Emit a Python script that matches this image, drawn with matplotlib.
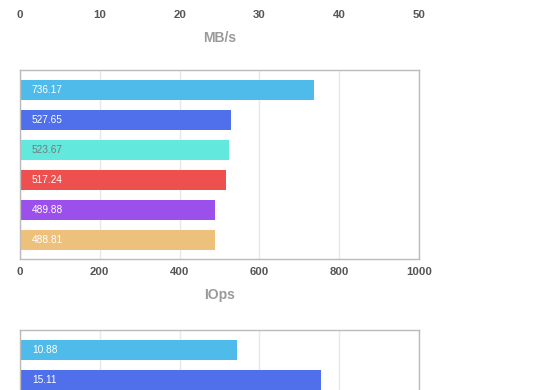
import matplotlib
matplotlib.use('Agg')
import matplotlib.pyplot as plt

plt.rcParams['font.family'] = ['Liberation Sans', 'DejaVu Sans']

colors = ['#4fbbeb', '#4f6feb', '#62e8dc', '#ee4f4f', '#9b4feb', '#edc07c']
label_colors = ['white', 'white', '#777777', 'white', 'white', 'white']

# top chart (only its axis is visible)
mbs_ticks = [0, 10, 20, 30, 40, 50]

# middle chart
iops_values = [736.17, 527.65, 523.67, 517.24, 489.88, 488.81]
iops_ticks = [0, 200, 400, 600, 800, 1000]

# bottom chart (only the first two bars are visible)
lat_values = [10.88, 15.11]
lat_max = 20

W, H = 560, 390
fig = plt.figure(figsize=(W / 100, H / 100), dpi=100)


def px_axes(left, top, width, height):
    return fig.add_axes([left / W, (H - top - height) / H, width / W, height / H])


def style(ax, xmax, ticks=None, xlabel=None):
    ax.set_xlim(0, xmax)
    ax.set_ylim(5.633, -0.667)
    ax.set_yticks([])
    if ticks is not None:
        ax.set_xticks(ticks)
    ax.grid(axis='x', color='#e8e8e8', linewidth=1)
    ax.set_axisbelow(True)
    for s in ax.spines.values():
        s.set_color('#bbbbbb')
        s.set_linewidth(1)
    ax.tick_params(axis='x', length=0, pad=6, labelsize=8.2, labelcolor='#555555')
    for t in ax.get_xticklabels():
        t.set_fontweight('bold')
    if xlabel:
        ax.set_xlabel(xlabel, fontsize=10, color='#9a9a9a', labelpad=8, fontweight='bold')


def bars(ax, values, xmax):
    pos = list(range(len(values)))
    ax.barh(pos, values, height=0.667, color=colors[:len(values)])
    for i, v in enumerate(values):
        ax.text(xmax * 0.03, i, f'{v:.2f}', va='center', ha='left',
                fontsize=7.3, color=label_colors[i])


ax_top = px_axes(20, 2 - 189, 399, 189)
style(ax_top, 50, mbs_ticks, 'MB/s')
ax_top.grid(False)
for s in ax_top.spines.values():
    s.set_visible(False)

ax_mid = px_axes(20, 70, 399, 189)
style(ax_mid, 1000, iops_ticks, 'IOps')
bars(ax_mid, iops_values, 1000)

ax_bot = px_axes(20, 330, 399, 189)
style(ax_bot, lat_max, [0, 4, 8, 12, 16, 20])
ax_bot.tick_params(axis='x', labelbottom=False)
bars(ax_bot, lat_values, lat_max)

fig.savefig('out.png', dpi=100)
